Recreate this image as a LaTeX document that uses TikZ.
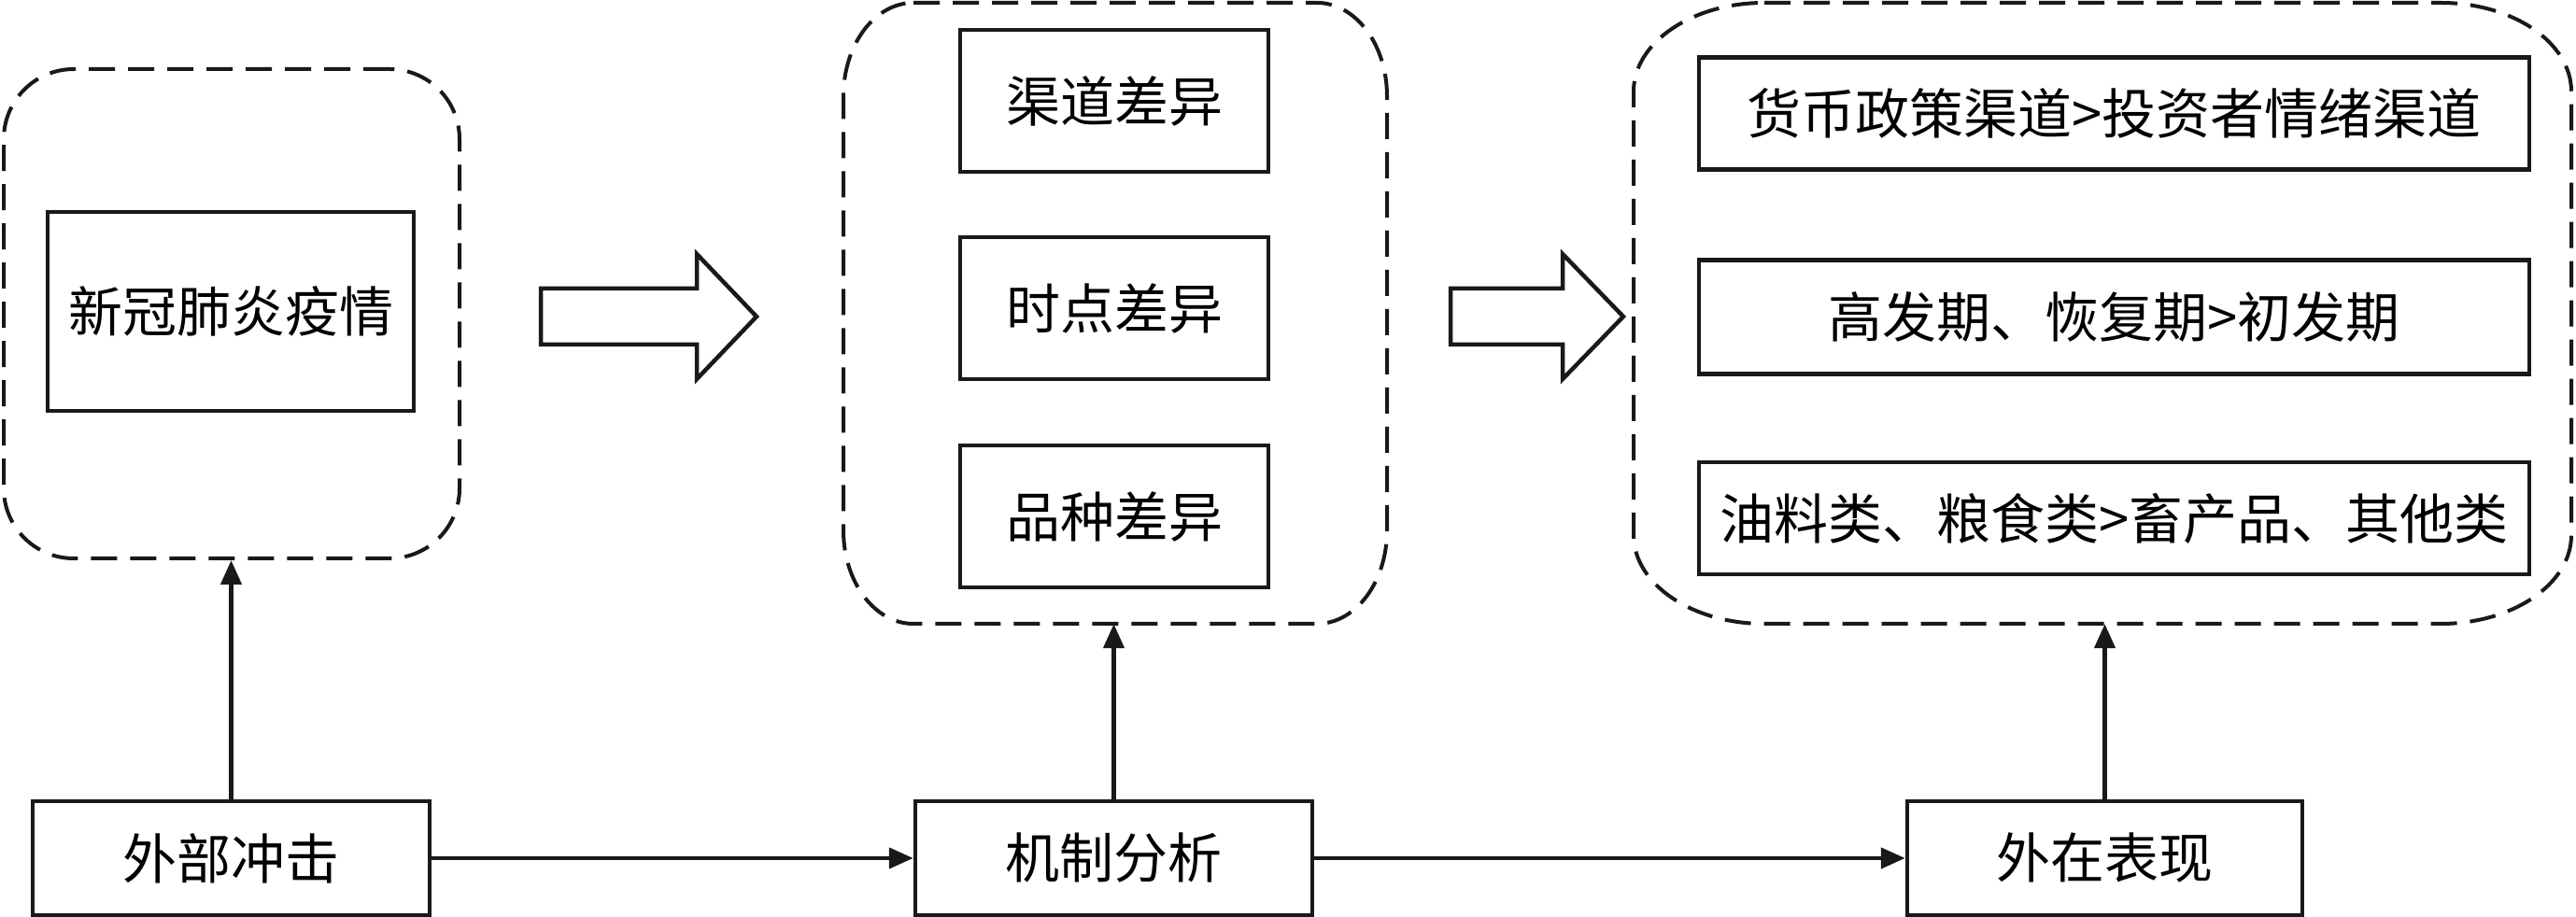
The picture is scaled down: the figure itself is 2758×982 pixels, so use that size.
\documentclass[tikz,border=0pt]{standalone}
\usepackage{fontspec}
\setmainfont{Noto Sans CJK SC}
\usetikzlibrary{arrows.meta}
\begin{document}
\begin{tikzpicture}[x=1pt,y=1pt,
  box/.style={draw=black!90, line width=4.5pt, inner sep=0pt, font=\fontsize{58}{62}\selectfont},
  groupline/.style={draw=black!90, line width=4pt, dash pattern=on 28pt off 14pt},
  group/.style={groupline, inner sep=0pt},
  conn/.style={draw=black!90, line width=4.5pt, -{Triangle[length=26pt,width=22pt]}},
  hollow/.style={draw=black!90, line width=4.5pt, fill=white, line join=miter}]
\useasboundingbox (0,0) rectangle (2758,982);

% dashed groups
\node[group, minimum width=488, minimum height=524, rounded corners=75] (g1) at (248,646) {};
\node[inner sep=0pt, minimum width=582, minimum height=665] (g2) at (1194,646.5) {};
\node[inner sep=0pt, minimum width=1004, minimum height=665] (g3) at (2251,646.5) {};
\draw[groupline] (978,979) -- (1410,979)
  arc[start angle=90,end angle=0,x radius=75,y radius=100] -- (1485,414)
  arc[start angle=0,end angle=-90,x radius=75,y radius=100] -- (978,314)
  arc[start angle=270,end angle=180,x radius=75,y radius=100] -- (903,879)
  arc[start angle=180,end angle=90,x radius=75,y radius=100] -- cycle;
\draw[groupline] (1889,979) -- (2613,979)
  arc[start angle=90,end angle=0,x radius=140,y radius=95] -- (2753,409)
  arc[start angle=0,end angle=-90,x radius=140,y radius=95] -- (1889,314)
  arc[start angle=270,end angle=180,x radius=140,y radius=95] -- (1749,884)
  arc[start angle=180,end angle=90,x radius=140,y radius=95] -- cycle;

% inner boxes
\node[box, minimum width=392, minimum height=213] (xg) at (247,648.5) {新冠肺炎疫情};
\node[box, minimum width=330, minimum height=152] (qd) at (1193,874) {渠道差异};
\node[box, minimum width=330, minimum height=152] (sd) at (1193,652) {时点差异};
\node[box, minimum width=330, minimum height=152] (pz) at (1193,429) {品种差异};
\node[box, minimum width=889, minimum height=120] (r1) at (2263.5,860.5) {货币政策渠道>投资者情绪渠道};
\node[box, minimum width=889, minimum height=122] (r2) at (2263.5,642.5) {高发期、恢复期>初发期};
\node[box, minimum width=889, minimum height=120] (r3) at (2263.5,427) {油料类、粮食类>畜产品、其他类};

% bottom boxes
\node[box, minimum width=425, minimum height=122] (ext) at (247.5,63) {外部冲击};
\node[box, minimum width=425, minimum height=122] (mech) at (1192.5,63) {机制分析};
\node[box, minimum width=423, minimum height=122] (outn) at (2253.5,63) {外在表现};

% hollow arrows
\draw[hollow] (579,673) -- (746,673) -- (746,710) -- (810,643) -- (746,576) -- (746,613) -- (579,613) -- cycle;
\draw[hollow] (1553,673) -- (1673,673) -- (1673,710) -- (1738,643) -- (1673,576) -- (1673,613) -- (1553,613) -- cycle;

% connectors
\draw[conn] (ext) -- (mech);
\draw[conn] (mech) -- (outn);
\draw[conn] (ext.north) -- (ext.north |- g1.south);
\draw[conn] (mech.north) -- (mech.north |- g2.south);
\draw[conn] (outn.north) -- (outn.north |- g3.south);
\end{tikzpicture}
\end{document}
